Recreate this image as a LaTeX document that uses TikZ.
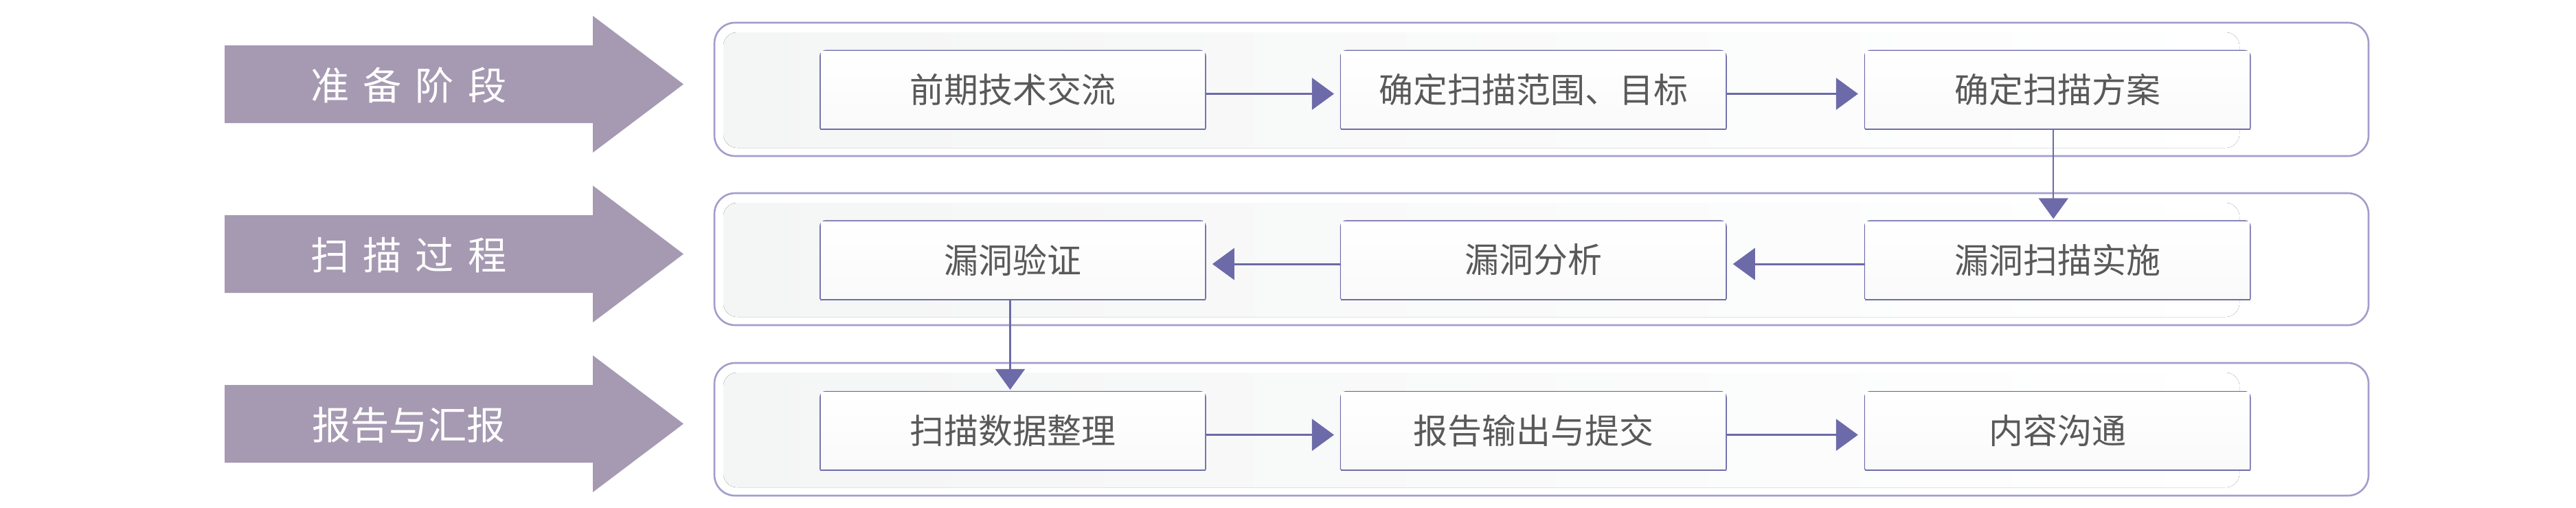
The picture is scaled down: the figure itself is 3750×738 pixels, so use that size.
\documentclass[tikz,border=0pt]{standalone}
\usepackage{fontspec}
\setmainfont{Noto Sans CJK SC}
\usetikzlibrary{arrows.meta,positioning}

\definecolor{stagefill}{HTML}{A699B2}
\definecolor{panelline}{HTML}{A29ECB}
\definecolor{panelin}{HTML}{F4F5F5}
\definecolor{boxline}{HTML}{6F6CA9}
\definecolor{boxbottom}{HTML}{FAFAFA}
\definecolor{linkcol}{HTML}{6C6AA8}
\definecolor{textgray}{HTML}{595959}

\tikzset{
    stagetext/.style={text=white, font=\fontsize{16}{19}\selectfont},
    panel/.style={draw=panelline, line width=0.75pt, fill=white, rounded corners=0.3cm},
    panelinner/.style={left color=panelin, right color=white, rounded corners=0.2cm},
    stepbox/.style={minimum width=5.59cm, minimum height=1.12cm, inner sep=0pt,
        top color=white, bottom color=boxbottom, text=textgray,
        font=\fontsize{14.2}{17}\selectfont,
        append after command={\pgfextra{
            \draw[boxline, line width=0.6pt, rounded corners=0.08cm]
                (\tikzlastnode.south west) -- (\tikzlastnode.north west)
                -- (\tikzlastnode.north east) -- (\tikzlastnode.south east);
            \draw[boxline, line width=1pt]
                (\tikzlastnode.south west) -- (\tikzlastnode.south east);}}},
    hlink/.style={draw=linkcol, line width=0.85pt, -{Triangle[length=0.32cm,width=0.46cm]}, shorten >=0.1cm},
    vlink/.style={draw=linkcol, line width=0.6pt, -{Triangle[length=0.3cm,width=0.43cm]}, shorten >=0.03cm}
}

\begin{document}
\begin{tikzpicture}[x=0.01cm, y=-0.01cm]
    \useasboundingbox (0,0) rectangle (3750,738);

    % stage arrows
    \fill[stagefill] (327,66) -- (863,66) -- (863,23) -- (995,122.5) -- (863,222) -- (863,179) -- (327,179) -- cycle;
    \fill[stagefill] (327,313) -- (863,313) -- (863,270) -- (995,369.5) -- (863,469) -- (863,426) -- (327,426) -- cycle;
    \fill[stagefill] (327,560) -- (863,560) -- (863,517) -- (995,616.5) -- (863,716) -- (863,673) -- (327,673) -- cycle;
    \node[stagetext] (prep) at (595,124) {准\hspace{0.2cm}备\hspace{0.2cm}阶\hspace{0.2cm}段};
    \node[stagetext] (scan) at (595,371) {扫\hspace{0.2cm}描\hspace{0.2cm}过\hspace{0.2cm}程};
    \node[stagetext] (report) at (595,618) {报告与汇报};

    % panels
    \draw[panel] (1040,33) rectangle (3448,227);
    \draw[panel] (1040,281) rectangle (3448,473);
    \draw[panel] (1040,528) rectangle (3448,721);
    \fill[panelinner] (1053,47) rectangle (3260,215);
    \fill[panelinner] (1053,295) rectangle (3260,461);
    \fill[panelinner] (1053,542) rectangle (3260,709);

    % steps
    \node[stepbox] (talk) at (1474.5,130.5) {前期技术交流};
    \node[stepbox, right=1.97cm of talk] (scope) {确定扫描范围、目标};
    \node[stepbox, right=2.02cm of scope] (plan) {确定扫描方案};
    \node[stepbox, below=1.34cm of plan] (run) {漏洞扫描实施};
    \node[stepbox, below=1.34cm of scope] (analyse) {漏洞分析};
    \node[stepbox, below=1.34cm of talk] (verify) {漏洞验证};
    \node[stepbox, below=1.35cm of verify] (sort) {扫描数据整理};
    \node[stepbox, below=1.35cm of analyse] (output) {报告输出与提交};
    \node[stepbox, below=1.35cm of run] (commun) {内容沟通};

    \draw[hlink] ([yshift=-0.06cm]talk.east) -- ([yshift=-0.06cm]scope.west);
    \draw[hlink] ([yshift=-0.06cm]scope.east) -- ([yshift=-0.06cm]plan.west);
    \draw[vlink] ([xshift=-0.06cm]plan.south) -- ([xshift=-0.06cm]run.north);
    \draw[hlink] ([yshift=-0.06cm]run.west) -- ([yshift=-0.06cm]analyse.east);
    \draw[hlink] ([yshift=-0.06cm]analyse.west) -- ([yshift=-0.06cm]verify.east);
    \draw[vlink] ([xshift=-0.04cm]verify.south) -- ([xshift=-0.04cm]sort.north);
    \draw[hlink] ([yshift=-0.06cm]sort.east) -- ([yshift=-0.06cm]output.west);
    \draw[hlink] ([yshift=-0.06cm]output.east) -- ([yshift=-0.06cm]commun.west);
\end{tikzpicture}
\end{document}
